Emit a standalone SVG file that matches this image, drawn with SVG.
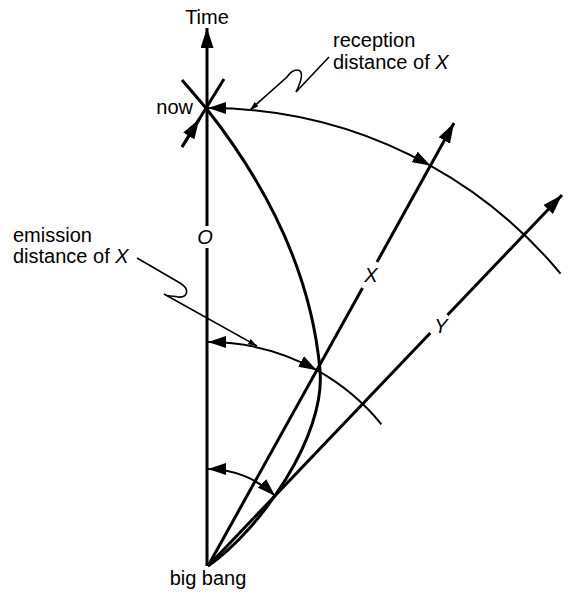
<svg xmlns="http://www.w3.org/2000/svg" width="581" height="600" viewBox="0 0 581 600">
<style>
.t{font-family:"Liberation Sans",Arial,sans-serif;font-size:20px;fill:#000}
.i{font-style:italic}
.thick{stroke:#000;stroke-width:3;fill:none}
.med{stroke:#000;stroke-width:2;fill:none}
.thin{stroke:#000;stroke-width:1.6;fill:none}
</style>
<defs>
<marker id="big" viewBox="0 0 20 13" refX="20" refY="6.5" markerWidth="20" markerHeight="13" markerUnits="userSpaceOnUse" orient="auto"><path d="M0,0L20,6.5L0,13Z" fill="#000"/></marker>
<marker id="arr" viewBox="0 0 18 12" refX="18" refY="6" markerWidth="18" markerHeight="12" markerUnits="userSpaceOnUse" orient="auto-start-reverse"><path d="M0,0L18,6L0,12Z" fill="#000"/></marker>
<marker id="sm" viewBox="0 0 9 6" refX="9" refY="3" markerWidth="9" markerHeight="6" markerUnits="userSpaceOnUse" orient="auto"><path d="M0,0L9,3L0,6Z" fill="#000"/></marker>
</defs>
<rect width="581" height="600" fill="#fff"/>
<g id="connectors">
<!-- time axis -->
<path class="thick" d="M207,566 L207,248"/>
<path class="thick" d="M207,226 L207,28" marker-end="url(#big)"/>
<!-- world line X -->
<path class="thick" d="M208,566 L362.5,288"/>
<path class="thick" d="M377,262 L454,123" marker-end="url(#big)"/>
<!-- world line Y -->
<path class="thick" d="M208,566 L430.3,333"/>
<path class="thick" d="M447.5,315 L562,195" marker-end="url(#big)"/>
<!-- past light cone -->
<path class="thick" d="M182,80 L206,108 C255,170 310,260 320,370 C326,436 260,530 208,566"/>
<!-- future light cone line at now -->
<path class="thick" d="M182,147 L224,79"/>
<path class="thick" d="M182,147 L199.3,119" marker-end="url(#big)"/>
<!-- reception arc -->
<path class="med" d="M208,108 A458,458 0 0 1 430.4,165.6" marker-start="url(#arr)" marker-end="url(#arr)"/>
<path class="med" d="M430.4,165.6 A458,458 0 0 1 560.5,273.6"/>
<!-- emission arc -->
<path class="med" d="M208,342 A224,224 0 0 1 316.8,370.2" marker-start="url(#arr)" marker-end="url(#arr)"/>
<path class="med" d="M316.8,370.2 A224,224 0 0 1 381.4,424.3"/>
<!-- small arc -->
<path class="med" d="M208,469 A97,97 0 0 1 275,495.8" marker-start="url(#arr)" marker-end="url(#arr)"/>
<!-- callouts -->
<path class="thin" d="M329,57 L296,92 C302,80 304,70 297,70 C292,70 289,74 287,77 L250,110" marker-end="url(#sm)"/>
<path class="thin" d="M137,258 L180,283 C190,289 188,298 178,297 C172,296 166,296 164,294 L257,346" marker-end="url(#sm)"/>
</g>
<g id="time"><text class="t" x="207" y="24" text-anchor="middle" font-size="19">Time</text></g>
<g id="now"><text class="t" x="193" y="114" text-anchor="end">now</text></g>
<g id="reception"><text class="t" x="333" y="47">reception</text><text class="t" x="333" y="69">distance of <tspan class="i">X</tspan></text></g>
<g id="emission"><text class="t" x="13" y="242">emission</text><text class="t" x="13" y="263">distance of <tspan class="i">X</tspan></text></g>
<g id="bigbang"><text class="t" x="208" y="585" text-anchor="middle" font-size="19">big bang</text></g>
<g id="labelO"><text class="t i" x="205" y="244" text-anchor="middle">O</text></g>
<g id="labelX"><text class="t i" x="371" y="282" text-anchor="middle">X</text></g>
<g id="labelY"><text class="t i" x="441" y="333" text-anchor="middle">Y</text></g>
</svg>
